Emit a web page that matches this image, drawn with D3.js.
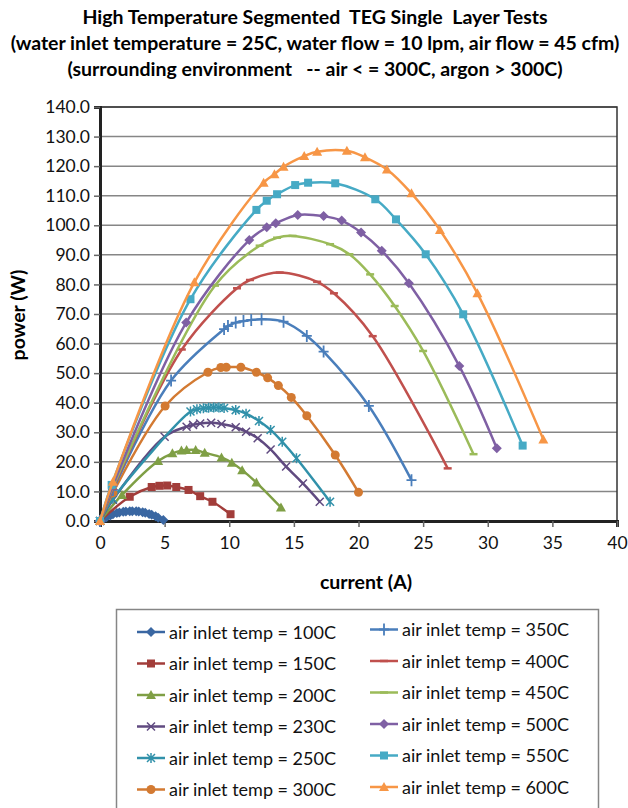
<!DOCTYPE html>
<html><head><meta charset="utf-8">
<script src="https://cdn.jsdelivr.net/npm/d3@7"></script>
<style>
body{margin:0;background:#fff;}
svg{display:block;font-family:Lato,"Open Sans",sans-serif;}
text{white-space:pre;}
</style></head>
<body><svg id="c" width="628" height="808"></svg>
<script>
// ---- data ----
const xTicks = [0,5,10,15,20,25,30,35,40];
const yTicks = [0,10,20,30,40,50,60,70,80,90,100,110,120,130,140];
const titleLines = ["High Temperature Segmented  TEG Single  Layer Tests",
  "(water inlet temperature = 25C, water flow = 10 lpm, air flow = 45 cfm)",
  "(surrounding environment   -- air < = 300C, argon > 300C)"];
const seriesNames = ["air inlet temp = 100C","air inlet temp = 150C","air inlet temp = 200C","air inlet temp = 230C","air inlet temp = 250C","air inlet temp = 300C","air inlet temp = 350C","air inlet temp = 400C","air inlet temp = 450C","air inlet temp = 500C","air inlet temp = 550C","air inlet temp = 600C"];
const seriesColors = ["#3A67A2","#A23D3A","#7F9F45","#604A80","#3191AA","#D37A32","#4A7EBB","#C0504D","#9BBB59","#7F60A4","#46AAC5","#F79646"];
const seriesMarkers = ["diamond","square","triangle","x","asterisk","circle","plus","dash","dash","diamond","square","triangle"];

const current100 = [0,0.3,0.5,0.8,1.0,1.3,1.5,1.8,2.0,2.3,2.5,2.8,3.0,3.3,3.5,3.8,4.0,4.3,4.5,4.9];
const power100   = [0,0.8,1.3,1.9,2.3,2.7,2.9,3.1,3.2,3.3,3.3,3.3,3.2,3.0,2.8,2.4,2.1,1.6,1.1,0.3];
const current150 = [0,2.3,4.0,4.6,5.2,5.9,6.85,7.75,8.7,10.1];
const power150   = [0,8.2,11.5,11.9,12.0,11.5,10.5,8.4,6.5,2.3];
const current200 = [0,1.7,4.5,5.6,6.3,6.7,7.4,8.1,9.4,10.2,11.0,12.1,14.0];
const power200   = [0,8.8,20.3,22.9,23.8,24.0,24.0,23.1,21.5,19.7,17.2,13.0,4.6];
const current230 = [0,1.0,5.0,6.7,7.2,7.75,8.6,9.4,10.5,11.3,12.2,13.2,14.4,15.7,17.0];
const power230   = [0,7.2,28.5,31.9,32.5,33.0,33.2,32.8,31.7,30.2,28.0,24.2,18.4,12.7,6.5];
const current250 = [0,1.0,7.0,7.5,8.0,8.4,8.8,9.2,9.6,10.5,11.3,12.3,13.2,14.1,15.2,17.8];
const power250   = [0,7.5,37.0,37.8,38.1,38.3,38.4,38.4,38.2,37.5,36.3,33.8,30.8,26.8,21.2,6.5];
const current300 = [0,1.0,5.04,8.35,9.35,9.77,10.9,12.1,12.97,13.8,14.8,16.0,18.2,20.0];
const power300   = [0,9.5,38.9,50.3,51.9,52.0,52.0,50.3,48.4,45.8,41.8,35.6,22.3,9.7];
const current350 = [0,1.0,5.5,9.6,9.9,10.5,11.1,11.7,12.5,14.2,16.0,17.3,20.8,24.1];
const power350   = [0,10.5,47.5,64.9,65.9,67.1,67.6,68.0,68.2,67.4,62.6,57.3,38.9,13.8];
const current400 = [0,1.0,6.33,10.6,11.6,13.9,16.8,18.1,21.1,26.9];
const power400   = [0,11.0,58.0,78.7,81.5,84.0,80.9,77.0,62.5,17.8];
const current450 = [0,1.0,8.9,12.35,13.7,14.9,17.8,19.3,20.9,22.8,25.0,28.9];
const power450   = [0,11.5,79.6,93.1,95.8,96.4,93.6,90.2,83.4,72.7,57.5,22.6];
const current500 = [0,1.0,6.67,11.55,12.9,13.6,15.3,17.3,18.7,20.2,21.8,23.9,27.8,30.7];
const power500   = [0,12.0,67.1,95.0,99.3,100.7,103.5,103.1,101.6,97.6,91.4,80.4,52.4,24.6];
const current550 = [0,0.9,7.0,12.1,12.9,13.7,15.1,16.1,18.2,21.3,22.9,25.2,28.1,32.7];
const power550   = [0,12.2,75.0,105.2,108.3,110.5,113.6,114.4,114.2,108.8,102.0,90.2,69.9,25.5];
const current600 = [0,1.0,7.3,12.66,13.5,14.2,15.8,16.8,19.1,20.5,22.2,24.1,26.3,29.2,34.3];
const power600   = [0,13.3,80.7,114.4,117.3,119.8,123.4,124.9,125.2,123.0,118.9,110.8,98.4,77.0,27.6];

const currents = [current100,current150,current200,current230,current250,current300,current350,current400,current450,current500,current550,current600];
const powers = [power100,power150,power200,power230,power250,power300,power350,power400,power450,power500,power550,power600];

// ---- chart ----
const svg = d3.select("#c");
const L=100, R=617, T=107, B=521;
const x = d3.scaleLinear().domain([0,40]).range([L,R]);
const y = d3.scaleLinear().domain([0,140]).range([B,T]);

// title
svg.append("g").selectAll("text").data(titleLines).join("text")
  .attr("x",315).attr("y",(d,i)=>24+i*26).attr("text-anchor","middle")
  .attr("font-weight","bold").attr("font-size",19.5).attr("fill","#000").text(d=>d);

// gridlines
svg.append("g").selectAll("line").data(yTicks.filter(v=>v>0)).join("line")
  .attr("x1",L).attr("x2",R).attr("y1",d=>y(d)).attr("y2",d=>y(d))
  .attr("stroke","#868686").attr("stroke-width",1.5);

// plot border
svg.append("rect").attr("x",L).attr("y",T).attr("width",R-L).attr("height",B-T)
  .attr("fill","none").attr("stroke","#333").attr("stroke-width",1.5);

// axes
const yAxis = d3.axisLeft(y).tickValues(yTicks).tickFormat(d3.format(".1f")).tickSize(6).tickPadding(4);
const gy = svg.append("g").attr("transform",`translate(${L},0)`).call(yAxis);
const xAxis = d3.axisBottom(x).tickValues(xTicks).tickSize(6).tickPadding(10);
const gx = svg.append("g").attr("transform",`translate(0,${B})`).call(xAxis);
[gy,gx].forEach(g=>{
  g.select(".domain").attr("stroke","#222").attr("stroke-width",3);
  g.selectAll(".tick line").attr("stroke","#666").attr("stroke-width",1.5);
  g.selectAll(".tick text").attr("font-size",17.5).attr("fill","#111").attr("font-family","Lato");
});

svg.append("text").attr("x",366).attr("y",589).attr("text-anchor","middle")
  .attr("font-weight","bold").attr("font-size",19.5).text("current (A)");
svg.append("text").attr("transform","translate(25,315) rotate(-90)").attr("text-anchor","middle")
  .attr("font-weight","bold").attr("font-size",19.5).text("power (W)");

// markers
function marker(sel, type, color){
  if(type==="diamond") sel.append("path").attr("d","M0,-5L5,0L0,5L-5,0Z").attr("fill",color);
  else if(type==="square") sel.append("rect").attr("x",-4).attr("y",-4).attr("width",8).attr("height",8).attr("fill",color);
  else if(type==="triangle") sel.append("path").attr("d","M0,-5L5,4L-5,4Z").attr("fill",color);
  else if(type==="circle") sel.append("circle").attr("r",4.5).attr("fill",color);
  else if(type==="x") sel.append("path").attr("d","M-4,-4L4,4M-4,4L4,-4").attr("stroke",color).attr("stroke-width",1.5).attr("fill","none");
  else if(type==="asterisk") sel.append("path").attr("d","M-4,-4L4,4M-4,4L4,-4M0,-5V5").attr("stroke",color).attr("stroke-width",1.5).attr("fill","none");
  else if(type==="plus") sel.append("path").attr("d","M-5,0H5M0,-6V6").attr("stroke",color).attr("stroke-width",1.8).attr("fill","none");
  else if(type==="dash") sel.append("path").attr("d","M-4,0H4").attr("stroke",color).attr("stroke-width",2.5).attr("fill","none");
}

const line = d3.line().x(d=>x(d[0])).y(d=>y(d[1])).curve(d3.curveCatmullRom.alpha(0.5));
const plot = svg.append("g");
currents.forEach((cs,i)=>{
  const pts = cs.map((c,j)=>[c,powers[i][j]]);
  const g = plot.append("g");
  g.append("path").datum(pts).attr("d",line).attr("fill","none")
    .attr("stroke",seriesColors[i]).attr("stroke-width",2.5);
  pts.forEach(p=>{
    const m = g.append("g").attr("transform",`translate(${x(p[0])},${y(p[1])})`);
    marker(m, seriesMarkers[i], seriesColors[i]);
  });
});

// legend
svg.append("rect").attr("x",116.5).attr("y",609.5).attr("width",482).attr("height",205)
  .attr("fill","#fff").attr("stroke","#868686").attr("stroke-width",1.5);
const leg = svg.append("g");
seriesNames.forEach((n,i)=>{
  const col = i<6?0:1, row = i%6;
  const lx = col===0?137:370;
  const ly = (col===0?632:629.5) + row*31.5;
  const g = leg.append("g");
  g.append("line").attr("x1",lx).attr("x2",lx+28).attr("y1",ly).attr("y2",ly)
    .attr("stroke",seriesColors[i]).attr("stroke-width",2.5);
  const m = g.append("g").attr("transform",`translate(${lx+14},${ly})`);
  marker(m, seriesMarkers[i], seriesColors[i]);
  g.append("text").attr("x",lx+32).attr("y",ly+6.5).attr("font-size",18).attr("fill","#111").text(n);
});
</script></body></html>
